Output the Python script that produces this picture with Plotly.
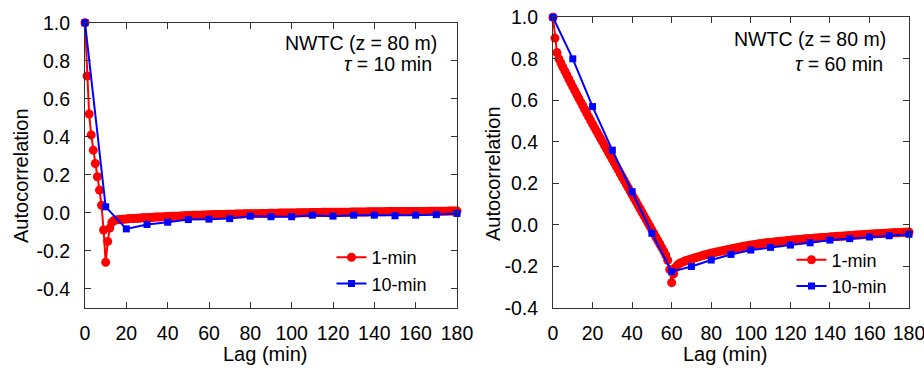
import plotly.graph_objects as go

# ---------------- data ----------------
# Left panel (tau = 10 min)
left_1min = [
    1.0, 0.72, 0.52, 0.41, 0.33, 0.26, 0.19, 0.12, 0.04, -0.09, -0.26, -0.15, -0.08, -0.05, -0.04,
    -0.037, -0.036, -0.035, -0.034, -0.033, -0.032, -0.031, -0.030, -0.030, -0.029, -0.028, -0.028, -0.027, -0.026, -0.026,
    -0.025, -0.024, -0.024, -0.023, -0.022, -0.022, -0.021, -0.021, -0.020, -0.020, -0.019, -0.019, -0.018, -0.018, -0.017,
    -0.017, -0.016, -0.016, -0.015, -0.015, -0.014, -0.014, -0.013, -0.013, -0.013, -0.012, -0.012, -0.011, -0.011, -0.011,
    -0.010, -0.010, -0.010, -0.009, -0.009, -0.009, -0.008, -0.008, -0.008, -0.007, -0.007, -0.007, -0.007, -0.006, -0.006,
    -0.006, -0.006, -0.005, -0.005, -0.005, -0.005, -0.004, -0.004, -0.004, -0.004, -0.003, -0.003, -0.003, -0.003, -0.002,
    -0.002, -0.002, -0.002, -0.002, -0.001, -0.001, -0.001, -0.001, 0.000, 0.000, 0.000, 0.000, 0.000, 0.001, 0.001,
    0.001, 0.001, 0.001, 0.001, 0.002, 0.002, 0.002, 0.002, 0.002, 0.002, 0.003, 0.003, 0.003, 0.003, 0.003,
    0.003, 0.003, 0.004, 0.004, 0.004, 0.004, 0.004, 0.004, 0.004, 0.005, 0.005, 0.005, 0.005, 0.005, 0.005,
    0.005, 0.005, 0.006, 0.006, 0.006, 0.006, 0.006, 0.006, 0.006, 0.006, 0.006, 0.007, 0.007, 0.007, 0.007,
    0.007, 0.007, 0.007, 0.007, 0.007, 0.007, 0.008, 0.008, 0.008, 0.008, 0.008, 0.008, 0.008, 0.008, 0.008,
    0.008, 0.009, 0.009, 0.009, 0.009, 0.009, 0.009, 0.009, 0.009, 0.009, 0.009, 0.010, 0.010, 0.010, 0.010, 0.010,
]
left_10min = [1.0, 0.032, -0.084, -0.061, -0.049, -0.035, -0.033, -0.030, -0.017, -0.020,
              -0.020, -0.012, -0.017, -0.012, -0.012, -0.015, -0.012, -0.009, -0.003]

# Right panel (tau = 60 min)
right_1min = [
    1.000, 0.900, 0.830, 0.800, 0.780, 0.760, 0.741, 0.722, 0.703, 0.684,
    0.665, 0.647, 0.629, 0.611, 0.593, 0.575, 0.557, 0.539, 0.521, 0.503,
    0.486, 0.469, 0.452, 0.435, 0.418, 0.401, 0.384, 0.367, 0.350, 0.333,
    0.316, 0.299, 0.282, 0.265, 0.248, 0.231, 0.214, 0.197, 0.180, 0.163,
    0.146, 0.129, 0.112, 0.095, 0.078, 0.061, 0.044, 0.027, 0.010, -0.007,
    -0.024, -0.041, -0.058, -0.075, -0.092, -0.109, -0.126, -0.145, -0.170, -0.215,
    -0.278, -0.235, -0.205, -0.192, -0.186, -0.181, -0.177, -0.173, -0.170, -0.167,
    -0.164,
    -0.161, -0.158, -0.155, -0.152, -0.149, -0.146, -0.144, -0.141, -0.139, -0.136,
    -0.134, -0.132, -0.130, -0.128, -0.126, -0.124, -0.122, -0.120, -0.118, -0.116,
    -0.114, -0.112, -0.110, -0.108, -0.106, -0.104, -0.102, -0.101, -0.099, -0.097,
    -0.096, -0.094, -0.093, -0.091, -0.090, -0.089, -0.087, -0.086, -0.085, -0.084,
    -0.083, -0.082, -0.081, -0.080, -0.079, -0.078, -0.077, -0.076, -0.075, -0.074,
    -0.073, -0.072, -0.071, -0.070, -0.070, -0.069, -0.068, -0.067, -0.066, -0.066,
    -0.065, -0.064, -0.063, -0.063, -0.062, -0.061, -0.060, -0.060, -0.059, -0.058,
    -0.057, -0.057, -0.056, -0.055, -0.055, -0.054, -0.053, -0.053, -0.052, -0.051,
    -0.051, -0.050, -0.049, -0.049, -0.048, -0.047, -0.047, -0.046, -0.045, -0.045,
    -0.044, -0.044, -0.043, -0.042, -0.042, -0.041, -0.041, -0.040, -0.040, -0.039,
    -0.039, -0.038, -0.038, -0.037, -0.037, -0.036, -0.036, -0.035, -0.035, -0.034,
]
right_10min = [1.0, 0.80, 0.57, 0.36, 0.16, -0.04, -0.225, -0.20, -0.169, -0.142,
               -0.121, -0.108, -0.097, -0.086, -0.073, -0.066, -0.058, -0.052, -0.045]

lags_1min_left = list(range(len(left_1min)))
lags_1min_right = list(range(len(right_1min)))
lags_10min = list(range(0, 181, 10))

x_tick_vals = list(range(0, 181, 20))
x_tick_text = [str(v) for v in x_tick_vals]
y_tick_vals = [-0.4, -0.2, 0.0, 0.2, 0.4, 0.6, 0.8, 1.0]
y_tick_text = ["-0.4", "-0.2", "0.0", "0.2", "0.4", "0.6", "0.8", "1.0"]

series_names = ["1-min", "10-min"]
panel_labels = [("NWTC (z = 80 m)", "<i>τ</i> = 10 min"), ("NWTC (z = 80 m)", "<i>τ</i> = 60 min")]

# ---------------- figure ----------------
W, H = 924, 368
FONT = "Liberation Sans, Arial, Helvetica, sans-serif"
RED = "#ff0000"
BLUE = "#0000ff"
AX = "#333333"

fig = go.Figure()

def add_pair(x1, y1, x10, y10, xa, ya, leg):
    fig.add_trace(go.Scatter(
        x=x1, y=y1, mode="lines+markers", name=series_names[0],
        line=dict(color=RED, width=2),
        marker=dict(color=RED, size=9, symbol="circle"),
        xaxis=xa, yaxis=ya, legend=leg, cliponaxis=False))
    fig.add_trace(go.Scatter(
        x=x10, y=y10, mode="lines+markers", name=series_names[1],
        line=dict(color=BLUE, width=2),
        marker=dict(color=BLUE, size=7, symbol="square"),
        xaxis=xa, yaxis=ya, legend=leg, cliponaxis=False))

add_pair(lags_1min_left, left_1min, lags_10min, left_10min, "x", "y", "legend")
add_pair(lags_1min_right, right_1min, lags_10min, right_10min, "x2", "y2", "legend2")

def px_x(p):
    return p / W

def px_y(p):
    return 1 - p / H

axis_common = dict(
    showline=True, linecolor=AX, linewidth=1, mirror="allticks",
    ticks="inside", ticklen=6, tickcolor=AX, tickwidth=1,
    showgrid=False, zeroline=False, automargin=False,
    ticklabeloverflow="allow",
    tickfont=dict(family=FONT, size=19.5, color="black"),
)

fig.update_layout(
    width=W, height=H,
    margin=dict(l=0, r=0, t=0, b=0, autoexpand=False),
    paper_bgcolor="white", plot_bgcolor="white",
    font=dict(family=FONT, color="black"),
    xaxis=dict(domain=[px_x(85), px_x(457)], range=[0, 180], anchor="y",
               tickvals=x_tick_vals, ticktext=x_tick_text, ticklabelstandoff=8, **axis_common),
    yaxis=dict(domain=[px_y(308), px_y(22.7)], range=[-0.5, 1.0], anchor="x",
               tickvals=y_tick_vals, ticktext=y_tick_text, ticklabelstandoff=10, **axis_common),
    xaxis2=dict(domain=[px_x(553), px_x(909)], range=[0, 180], anchor="y2",
                tickvals=x_tick_vals, ticktext=x_tick_text, ticklabelstandoff=8, **axis_common),
    yaxis2=dict(domain=[px_y(308), px_y(17.3)], range=[-0.4, 1.0], anchor="x2",
                tickvals=y_tick_vals, ticktext=y_tick_text, ticklabelstandoff=10, **axis_common),
    legend=dict(x=px_x(331.5), y=px_y(270.5), xanchor="left", yanchor="middle",
                bgcolor="rgba(0,0,0,0)", font=dict(family=FONT, size=18),
                tracegroupgap=0, itemwidth=30),
    legend2=dict(x=px_x(791.5), y=px_y(273), xanchor="left", yanchor="middle",
                 bgcolor="rgba(0,0,0,0)", font=dict(family=FONT, size=18),
                 tracegroupgap=0, itemwidth=30),
    showlegend=True,
)

annots = []
# panel labels
annots.append(dict(text=panel_labels[0][0], x=px_x(439), y=px_y(43), xanchor="right", yanchor="middle"))
annots.append(dict(text=panel_labels[0][1], x=px_x(434), y=px_y(64), xanchor="right", yanchor="middle"))
annots.append(dict(text=panel_labels[1][0], x=px_x(888), y=px_y(38.5), xanchor="right", yanchor="middle"))
annots.append(dict(text=panel_labels[1][1], x=px_x(885), y=px_y(64), xanchor="right", yanchor="middle"))
for a in annots:
    a.update(xref="paper", yref="paper", showarrow=False, font=dict(family=FONT, size=19.5, color="black"))

# axis titles
titles = [
    dict(text="Lag (min)", x=px_x(265), y=px_y(354), textangle=0),
    dict(text="Lag (min)", x=px_x(725), y=px_y(354), textangle=0),
    dict(text="Autocorrelation", x=px_x(21), y=px_y(176), textangle=-90),
    dict(text="Autocorrelation", x=px_x(493), y=px_y(174), textangle=-90),
]
for t in titles:
    t.update(xref="paper", yref="paper", showarrow=False, xanchor="center", yanchor="middle",
             font=dict(family=FONT, size=20, color="black"))
    annots.append(t)

fig.update_layout(annotations=annots)

fig.write_html("out.html")
